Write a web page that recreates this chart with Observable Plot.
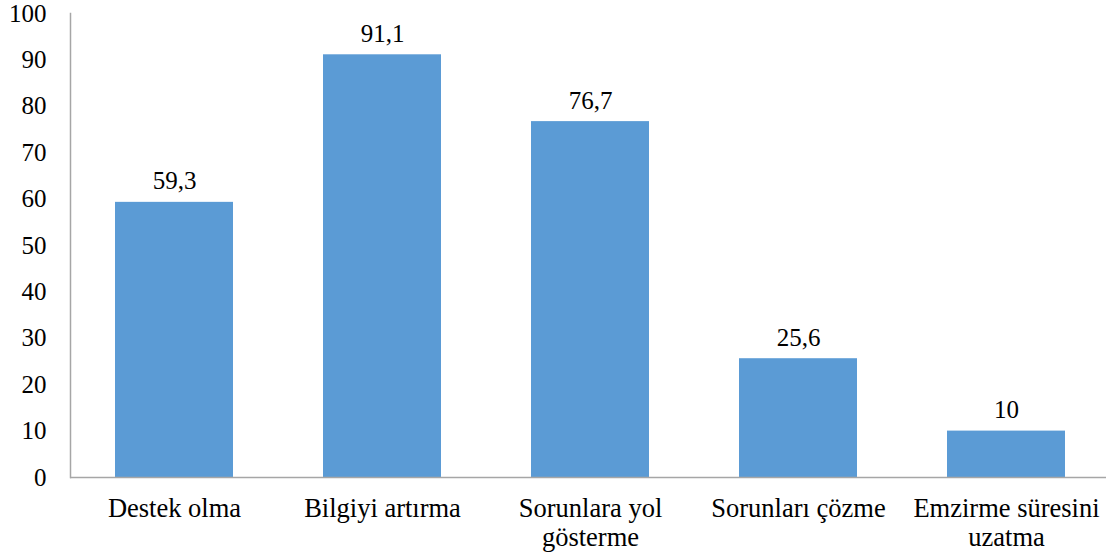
<!DOCTYPE html>
<html>
<head>
<meta charset="utf-8">
<script src="https://cdn.jsdelivr.net/npm/d3@7"></script>
<script src="https://cdn.jsdelivr.net/npm/@observablehq/plot@0.6"></script>
<style>
  html, body { margin: 0; padding: 0; background: #fff; }
  #chart svg { display: block; font-family: "Liberation Serif", "Times New Roman", serif !important; }
  #chart svg text { font-family: "Liberation Serif", "Times New Roman", serif !important; }
</style>
</head>
<body>
<div id="chart"></div>
<script>
const categories = ["Destek olma", "Bilgiyi artırma", "Sorunlara yol\ngösterme", "Sorunları çözme", "Emzirme süresini\nuzatma"];
const values = [59.3, 91.1, 76.7, 25.6, 10];
const valueLabels = ["59,3", "91,1", "76,7", "25,6", "10"];
const yTicks = [0, 10, 20, 30, 40, 50, 60, 70, 80, 90, 100];

const data = categories.map((c, i) => ({category: c, value: values[i], label: valueLabels[i]}));

const chart = Plot.plot({
  width: 1106,
  height: 560,
  marginTop: 13,
  marginBottom: 83,
  marginLeft: 70,
  marginRight: 0,
  style: {fontSize: "25px", color: "#000", background: "#fff"},
  x: {domain: categories, range: [70, 1110], paddingInner: 0.433, paddingOuter: 0.2165, label: null},
  y: {domain: [0, 100], label: null},
  marks: [
    Plot.barY(data, {x: "category", y: "value", fill: "#5B9BD5"}),
    Plot.text(data, {x: "category", y: "value", text: "label", lineAnchor: "bottom", dy: -13, fontSize: 25, fill: "#000"}),
    Plot.axisY({ticks: yTicks, tickSize: 0, tickPadding: 24, fontSize: 25, tickFormat: d => String(d), fill: "#000"}),
    Plot.axisX({tickSize: 0, tickPadding: 19, fontSize: 26.5, lineHeight: 1.1, fill: "#000"}),
    Plot.ruleY([0], {stroke: "#a6a6a6", strokeWidth: 1.5}),
    Plot.frame({anchor: "left", stroke: "#a6a6a6", strokeWidth: 1.5})
  ]
});
document.getElementById("chart").appendChild(chart);
</script>
</body>
</html>
